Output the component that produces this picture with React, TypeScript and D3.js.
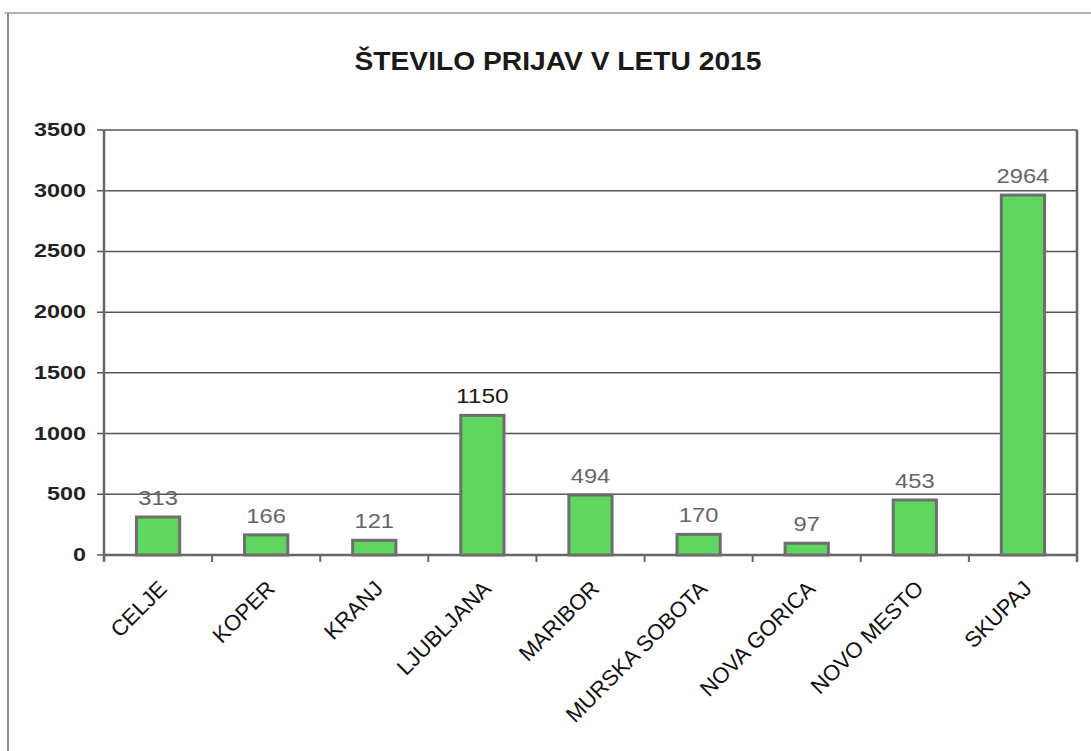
import React from "react";
import * as d3 from "d3";

const categories = ["CELJE", "KOPER", "KRANJ", "LJUBLJANA", "MARIBOR", "MURSKA SOBOTA", "NOVA GORICA", "NOVO MESTO", "SKUPAJ"];
const values = [313, 166, 121, 1150, 494, 170, 97, 453, 2964];
const yTicks = [0, 500, 1000, 1500, 2000, 2500, 3000, 3500];
const title = "ŠTEVILO PRIJAV V LETU 2015";

const W = 1091;
const H = 751;
const left = 104;
const right = 1077;
const top = 130;
const bottom = 555;
const FONT = "'Liberation Sans', Arial, sans-serif";

export default function App() {
  const x = d3.scaleBand<string>().domain(categories).range([left, right]).paddingInner(0.6).paddingOuter(0.3);
  const xb = d3.scaleBand<string>().domain(categories).range([left, right]).padding(0);
  const y = d3.scaleLinear().domain([0, 3500]).range([bottom, top]);

  return (
    <svg width={W} height={H} style={{ position: "absolute", left: 0, top: 0, background: "#fff" }}>
      <rect x={0} y={0} width={W} height={H} fill="#fff" />
      {/* outer frame */}
      <line x1={5} x2={W} y1={13} y2={13} stroke="#999" strokeWidth={1.5} />
      <line x1={8} x2={8} y1={13} y2={H} stroke="#888" strokeWidth={2} />

      <text x={558} y={70} textAnchor="middle" fontFamily={FONT} fontWeight="bold" fontSize={26} fill="#1a1a1a" textLength={407} lengthAdjust="spacingAndGlyphs">
        {title}
      </text>

      {/* gridlines */}
      {yTicks.map((t) => (
        <g key={t}>
          <line x1={left - 7} x2={right} y1={y(t)} y2={y(t)} stroke="#555" strokeWidth={1.5} />
          <text x={86} y={y(t) + 6} textAnchor="end" fontFamily={FONT} fontWeight="bold" fontSize={18} fill="#222" textLength={13 * String(t).length} lengthAdjust="spacingAndGlyphs">
            {t}
          </text>
        </g>
      ))}
      {/* axes */}
      <line x1={left} x2={left} y1={top} y2={bottom + 7} stroke="#666" strokeWidth={2.5} />
      <line x1={right} x2={right} y1={top} y2={bottom + 7} stroke="#666" strokeWidth={2.5} />
      <line x1={left} x2={right} y1={bottom} y2={bottom} stroke="#666" strokeWidth={2.5} />
      {categories.map((c) => (
        <line key={c} x1={xb(c)!} x2={xb(c)!} y1={bottom} y2={bottom + 7} stroke="#666" strokeWidth={2} />
      ))}

      {/* bars */}
      {categories.map((c, i) => {
        const bx = x(c)!;
        const bw = x.bandwidth();
        const by = y(values[i]);
        return (
          <g key={c}>
            <rect x={bx} y={by} width={bw} height={bottom - by} fill="#5fd65f" stroke="#6e6e6e" strokeWidth={3} />
            <text x={bx + bw / 2} y={by - 12} textAnchor="middle" fontFamily={FONT} fontSize={20} fill={c === "LJUBLJANA" ? "#1a1a1a" : "#666"} textLength={13.2 * String(values[i]).length} lengthAdjust="spacingAndGlyphs">
              {values[i]}
            </text>
          </g>
        );
      })}

      {/* x labels */}
      {categories.map((c) => {
        const cx = xb(c)! + xb.bandwidth() / 2 + 10;
        return (
          <text key={c} transform={`translate(${cx},${590}) rotate(-45)`} textAnchor="end" fontFamily={FONT} fontSize={22} fill="#111">
            {c}
          </text>
        );
      })}
    </svg>
  );
}
